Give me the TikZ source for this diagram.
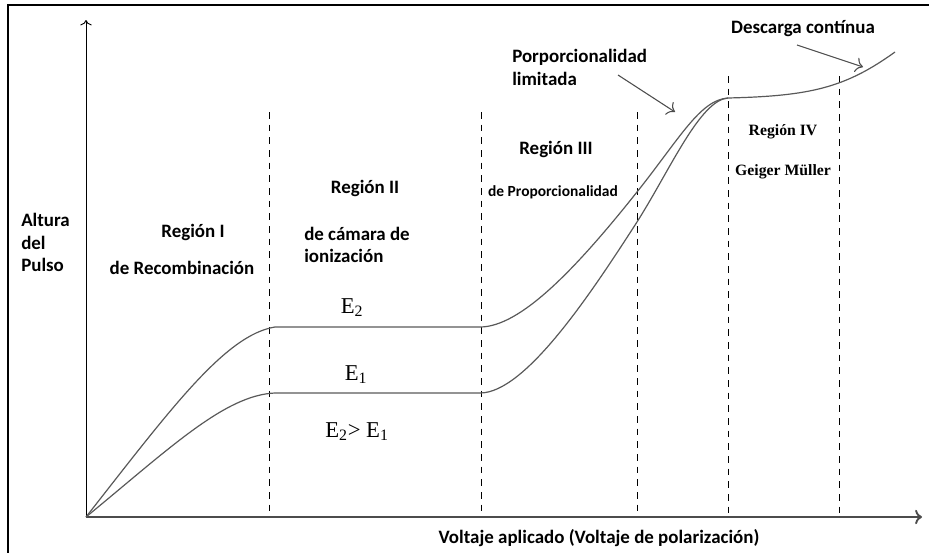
\documentclass[tikz,border=0pt]{standalone}
\usepackage{fontspec}
\setmainfont{Carlito}
\newfontfamily\timesfnt{Liberation Serif}
\usetikzlibrary{calc}
\usetikzlibrary{arrows,arrows.meta}

\begin{document}
\begin{tikzpicture}[x=0.75pt,y=-0.75pt,
  region/.style={black, line width=0.7pt, dash pattern=on 5pt off 4.5pt},
  pulse/.style={black!65, line width=0.9pt},
  note/.style={black!70, line width=0.8pt, -{To[scale=1.6]}},
  lbl/.style={inner sep=0pt, font=\bfseries\fontsize{14.2}{17}\selectfont},
  small/.style={inner sep=0pt, font=\bfseries\fontsize{11.6}{14}\selectfont},
  tms/.style={inner sep=0pt, font=\timesfnt\bfseries\fontsize{11.8}{14}\selectfont},
  volt/.style={inner sep=0pt, font=\timesfnt\fontsize{17}{20}\selectfont}]
\useasboundingbox (0,0) rectangle (929,553);
\draw[line width=1.5pt] (8,553) -- (8,5) -- (929,5);

% axes
\coordinate (O) at (86,517);
\coordinate (ytop) at (86,20);
\coordinate (xend) at (922,517);
\draw[black, line width=0.7pt, -{To[scale=1.3]}] (O) -- (ytop);
\draw[black!70, line width=1.4pt, -{To[scale=1.1]}] (O) -- (xend);

% region borders
\foreach \x/\t in {269/112, 481/112, 637/112, 728/76, 839/76}
  \draw[region] (\x,\t) -- (\x,517);

% pulse height curves
\draw[pulse] (O) .. controls (170,410) and (225,335) .. (275,327) -- (480,327)
  .. controls (520,327) and (575,270) .. (637,192)
  .. controls (680,138) and (700,100) .. (728,98)
  .. controls (810,96) and (845,88) .. (895,52);
\draw[pulse] (O) .. controls (170,448) and (225,395) .. (275,393) -- (480,393)
  .. controls (525,393) and (590,295) .. (637,222)
  .. controls (670,170) and (700,100) .. (728,98);

% labels
\node[lbl, anchor=base west] (alt) at (21,226) {Altura};
\node[lbl, anchor=base west] (del) at (21,249) {del};
\node[lbl, anchor=base west] (pul) at (21,271) {Pulso};
\node[lbl, anchor=base] (r1) at (193,237) {Región I};
\node[lbl, anchor=base] (r1b) at (182,274) {de Recombinación};
\node[lbl, anchor=base] (r2) at (365,193) {Región II};
\node[lbl, anchor=base west] (r2b) at (304,240) {de cámara de};
\node[lbl, anchor=base west] (r2c) at (304,262) {ionización};
\node[lbl, anchor=base] (r3) at (556,154) {Región III};
\node[small, anchor=base] (r3b) at (553,196) {de Proporcionalidad};
\node[tms, anchor=base] (r4) at (783,135) {Región IV};
\node[tms, anchor=base] (r4b) at (783,175) {Geiger Müller};
\node[lbl, anchor=base west] (lim) at (512,62) {Porporcionalidad};
\node[lbl, anchor=base west] (limb) at (512,85) {limitada};
\node[lbl, anchor=base] (desc) at (803,33) {Descarga contínua};
\node[lbl, anchor=base] (xlab) at (599,543) {Voltaje aplicado (Voltaje de polarización)};
\node[volt, anchor=base] (e2) at (352,313) {E\textsubscript{2}};
\node[volt, anchor=base] (e1) at (356,380) {E\textsubscript{1}};
\node[volt, anchor=base] (ecmp) at (357,437) {E\textsubscript{2}> E\textsubscript{1}};

% pointers
\coordinate (limA) at (618,75);
\coordinate (limB) at (675,112);
\coordinate (descA) at (797,45);
\coordinate (descB) at (863,67);
\draw[note] (limA) -- (limB);
\draw[note] (descA) -- (descB);
\end{tikzpicture}
\end{document}
